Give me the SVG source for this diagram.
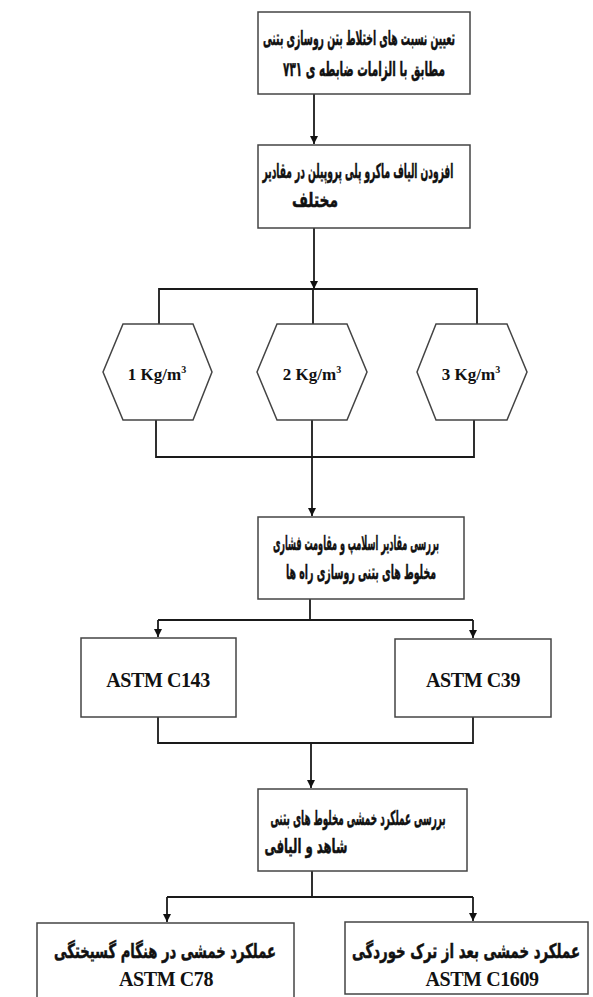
<svg xmlns="http://www.w3.org/2000/svg" width="593" height="997" viewBox="0 0 593 997">
  <defs>
    <marker id="arrow" viewBox="0 0 8 10" refX="8" refY="5" markerWidth="8" markerHeight="10" markerUnits="userSpaceOnUse" orient="auto">
      <path d="M0,1 L8,5 L0,9 Z" fill="#111"/>
    </marker>
  </defs>
  <style>
    .box { fill: #fff; stroke: #444; stroke-width: 1.5; }
    .wire { fill: none; stroke: #1a1a1a; stroke-width: 1.8; }
    /* Persian labels are drawn in a condensed bold face: scaled 0.6 horizontally */
    .fa { font-family: "DejaVu Sans", "Noto Sans", sans-serif; font-weight: bold; font-size: 20px; fill: #111; stroke: #111; stroke-width: 0.5; text-anchor: middle; }
    .en { font-family: "Liberation Serif", "Times New Roman", serif; font-weight: bold; fill: #111; text-anchor: middle; }
    .hx { font-size: 17px; }
    .std { font-size: 20px; letter-spacing: -0.4px; }
  </style>
  <rect width="593" height="997" fill="#fff"/>

  <!-- connectors -->
  <g id="connectors">
    <path class="wire" d="M314,94 V144" marker-end="url(#arrow)"/>
    <path class="wire" d="M314,228 V289" marker-end="url(#arrow)"/>
    <path class="wire" d="M159,324 V289 H477 V324 M313,289 V324"/>
    <path class="wire" d="M156,420 V457 H474 V420 M312,420 V457"/>
    <path class="wire" d="M312,457 V516" marker-end="url(#arrow)"/>
    <path class="wire" d="M310,599 V620 M158,620 H473"/>
    <path class="wire" d="M158,620 V637" marker-end="url(#arrow)"/>
    <path class="wire" d="M473,620 V638" marker-end="url(#arrow)"/>
    <path class="wire" d="M158,717 V743 H473 V717"/>
    <path class="wire" d="M311,743 V788" marker-end="url(#arrow)"/>
    <path class="wire" d="M312,871 V897 M167,897 H473"/>
    <path class="wire" d="M167,897 V922" marker-end="url(#arrow)"/>
    <path class="wire" d="M473,897 V921" marker-end="url(#arrow)"/>
  </g>

  <g id="mix-design">
    <rect class="box" x="258" y="12" width="212" height="82"/>
    <text class="fa" transform="translate(359,45) scale(0.6,1)" textLength="320" lengthAdjust="spacingAndGlyphs">تعیین نسبت های اختلاط بتن روسازی بتنی</text>
    <text class="fa" transform="translate(364,76) scale(0.6,1)" textLength="270" lengthAdjust="spacingAndGlyphs">مطابق با الزامات ضابطه ی ۷۳۱</text>
  </g>

  <g id="add-fibres">
    <rect class="box" x="258" y="145" width="212" height="83"/>
    <text class="fa" transform="translate(358,178) scale(0.6,1)" textLength="318" lengthAdjust="spacingAndGlyphs">افزودن الیاف ماکرو پلی پروپیلن در مقادیر</text>
    <text class="fa" transform="translate(315,207) scale(0.6,1)" textLength="77" lengthAdjust="spacingAndGlyphs">مختلف</text>
  </g>

  <g id="dose-1">
    <polygon class="box" points="103,372 123,324 193,324 212,372 193,420 123,420"/>
    <text class="en hx" x="157" y="380">1 Kg/m<tspan font-size="10" dy="-7">3</tspan></text>
  </g>
  <g id="dose-2">
    <polygon class="box" points="257,372 277,324 347,324 367,372 347,420 277,420"/>
    <text class="en hx" x="312" y="380">2 Kg/m<tspan font-size="10" dy="-7">3</tspan></text>
  </g>
  <g id="dose-3">
    <polygon class="box" points="417,372 436,324 507,324 527,372 507,420 436,420"/>
    <text class="en hx" x="471" y="380">3 Kg/m<tspan font-size="10" dy="-7">3</tspan></text>
  </g>

  <g id="slump-strength">
    <rect class="box" x="258" y="517" width="206" height="82"/>
    <text class="fa" transform="translate(356,550) scale(0.6,1)" textLength="277" lengthAdjust="spacingAndGlyphs">بررسی مقادیر اسلامپ و مقاومت فشاری</text>
    <text class="fa" transform="translate(361,579) scale(0.6,1)" textLength="250" lengthAdjust="spacingAndGlyphs">مخلوط های بتنی روسازی راه ها</text>
  </g>

  <g id="astm-c143">
    <rect class="box" x="81" y="638" width="155" height="79"/>
    <text class="en std" x="158" y="687">ASTM C143</text>
  </g>
  <g id="astm-c39">
    <rect class="box" x="395" y="639" width="156" height="78"/>
    <text class="en std" x="473" y="687">ASTM C39</text>
  </g>

  <g id="flexural">
    <rect class="box" x="258" y="789" width="209" height="82"/>
    <text class="fa" transform="translate(358,825) scale(0.6,1)" textLength="292" lengthAdjust="spacingAndGlyphs">بررسی عملکرد خمشی مخلوط های بتنی</text>
    <text class="fa" transform="translate(306,853) scale(0.6,1)" textLength="138" lengthAdjust="spacingAndGlyphs">شاهد و الیافی</text>
  </g>

  <g id="astm-c78">
    <rect class="box" x="37" y="923" width="257" height="80"/>
    <text class="fa" transform="translate(165,958) scale(0.6,1)" font-size="21" textLength="370" lengthAdjust="spacingAndGlyphs">عملکرد خمشی در  هنگام گسیختگی</text>
    <text class="en std" x="166" y="986">ASTM C78</text>
  </g>
  <g id="astm-c1609">
    <rect class="box" x="345" y="922" width="243" height="72"/>
    <text class="fa" transform="translate(466,958) scale(0.6,1)" font-size="21" textLength="380" lengthAdjust="spacingAndGlyphs">عملکرد خمشی بعد از ترک خوردگی</text>
    <text class="en std" x="482" y="986">ASTM C1609</text>
  </g>
</svg>
